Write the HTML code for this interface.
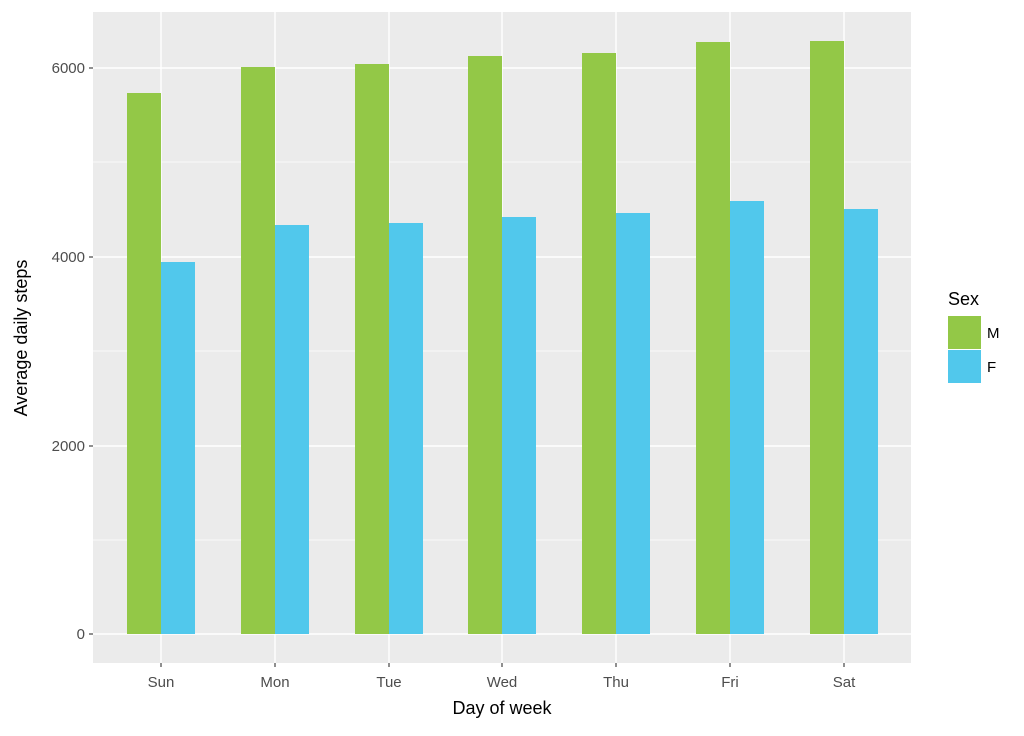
<!DOCTYPE html>
<html><head><style>body{margin:0;background:#fff}</style></head><body>
<svg width="1024" height="731" xmlns="http://www.w3.org/2000/svg" font-family="Liberation Sans, sans-serif">
<rect x="0" y="0" width="1024" height="731" fill="#fff"/>
<rect x="93" y="12" width="818" height="651" fill="#ebebeb"/>
<g stroke="#fff" stroke-width="0.7">
<line x1="93" x2="911" y1="540" y2="540"/><line x1="93" x2="911" y1="351" y2="351"/><line x1="93" x2="911" y1="162" y2="162"/>
</g>
<g stroke="#fff" stroke-width="1.4">
<line x1="93" x2="911" y1="634" y2="634"/><line x1="93" x2="911" y1="446" y2="446"/><line x1="93" x2="911" y1="257" y2="257"/><line x1="93" x2="911" y1="68" y2="68"/>
<line y1="12" y2="663" x1="161" x2="161"/><line y1="12" y2="663" x1="275" x2="275"/><line y1="12" y2="663" x1="389" x2="389"/><line y1="12" y2="663" x1="502" x2="502"/><line y1="12" y2="663" x1="616" x2="616"/><line y1="12" y2="663" x1="730" x2="730"/><line y1="12" y2="663" x1="844" x2="844"/>
</g>
<g fill="#93c847">
<rect x="127" y="93" width="34" height="541"/><rect x="241" y="67" width="34" height="567"/><rect x="355" y="64" width="34" height="570"/><rect x="468" y="56" width="34" height="578"/><rect x="582" y="53" width="34" height="581"/><rect x="696" y="42" width="34" height="592"/><rect x="810" y="41" width="34" height="593"/>
</g>
<g fill="#51c8ec">
<rect x="161" y="262" width="34" height="372"/><rect x="275" y="225" width="34" height="409"/><rect x="389" y="223" width="34" height="411"/><rect x="502" y="217" width="34" height="417"/><rect x="616" y="213" width="34" height="421"/><rect x="730" y="201" width="34" height="433"/><rect x="844" y="209" width="34" height="425"/>
</g>
<g stroke="#333" stroke-width="1.1">
<line x1="89" x2="93" y1="634" y2="634"/><line x1="89" x2="93" y1="446" y2="446"/><line x1="89" x2="93" y1="257" y2="257"/><line x1="89" x2="93" y1="68" y2="68"/>
<line y1="663" y2="667" x1="161" x2="161"/><line y1="663" y2="667" x1="275" x2="275"/><line y1="663" y2="667" x1="389" x2="389"/><line y1="663" y2="667" x1="502" x2="502"/><line y1="663" y2="667" x1="616" x2="616"/><line y1="663" y2="667" x1="730" x2="730"/><line y1="663" y2="667" x1="844" x2="844"/>
</g>
<g font-size="15" fill="#4d4d4d" text-anchor="end">
<text x="85" y="639">0</text><text x="85" y="451">2000</text><text x="85" y="262">4000</text><text x="85" y="73">6000</text>
</g>
<g font-size="15" fill="#4d4d4d" text-anchor="middle">
<text x="161" y="687">Sun</text><text x="275" y="687">Mon</text><text x="389" y="687">Tue</text><text x="502" y="687">Wed</text><text x="616" y="687">Thu</text><text x="730" y="687">Fri</text><text x="844" y="687">Sat</text>
</g>
<text x="502" y="714" font-size="18" text-anchor="middle">Day of week</text>
<text transform="translate(27,338) rotate(-90)" font-size="18" text-anchor="middle">Average daily steps</text>
<text x="948" y="305" font-size="18">Sex</text>
<rect x="948" y="316" width="33" height="33" fill="#93c847"/>
<rect x="948" y="350" width="33" height="33" fill="#51c8ec"/>
<text x="987" y="338" font-size="15">M</text>
<text x="987" y="372" font-size="15">F</text>
</svg>
</body></html>
